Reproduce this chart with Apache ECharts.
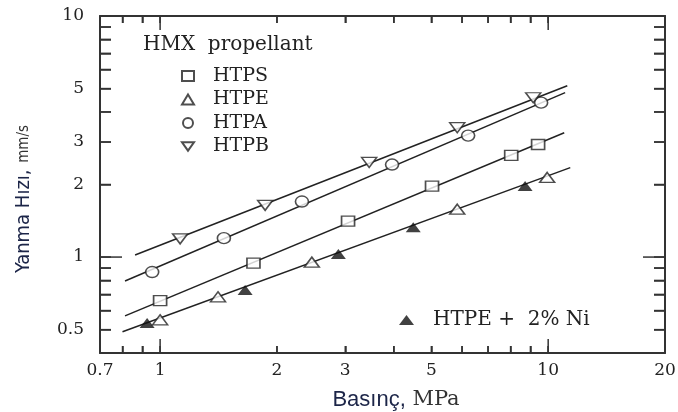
<!DOCTYPE html>
<html>
<head>
<meta charset="utf-8">
<script src="https://cdn.jsdelivr.net/npm/echarts@6/dist/echarts.min.js"></script>
<style>
  html, body { margin: 0; padding: 0; background: #fff; }
  #chart { width: 678px; height: 412px; }
</style>
</head>
<body>
<div id="chart"></div>
<script>
// measured points (pressure MPa, burning rate mm/s)
var htpsP = [1.0, 1.74, 3.05, 5.02, 8.03, 9.42];
var htpsR = [0.66, 0.944, 1.41, 1.97, 2.64, 2.93];
var htpeP = [1.0, 1.41, 2.46, 5.83, 9.94];
var htpeR = [0.549, 0.684, 0.953, 1.58, 2.14];
var htpaP = [0.954, 1.46, 2.32, 3.96, 6.22, 9.59];
var htpaR = [0.867, 1.198, 1.70, 2.42, 3.19, 4.37];
var htpbP = [1.126, 1.865, 3.457, 5.83, 9.15];
var htpbR = [1.19, 1.64, 2.47, 3.44, 4.58];
var niP = [0.926, 1.656, 2.88, 4.49, 8.72];
var niR = [0.533, 0.73, 1.03, 1.33, 1.97];

// fitted lines, end points [P, r]
var fitHTPS = [[0.812, 0.57], [11.0, 3.28]];
var fitHTPE = [[0.80, 0.49], [11.4, 2.35]];
var fitHTPA = [[0.812, 0.796], [11.06, 4.81]];
var fitHTPB = [[0.862, 1.02], [11.2, 5.14]];

// axes
var xRange = [0.7, 20];
var yRange = [0.4, 10];
var xLabels = [0.7, 1, 2, 3, 5, 10, 20];
var xMinor = [0.8, 0.9, 2, 3, 4, 5, 6, 7, 8, 9];
var xMajor = [1, 10];
var yLabels = [0.5, 1, 2, 3, 5, 10];
var yMinor = [0.5, 0.6, 0.7, 0.8, 0.9, 2, 3, 4, 5, 6, 7, 8, 9];
var yMajor = [1, 10];

var lg = Math.log10;
function pts(P, R) { return P.map(function (p, i) { return [lg(p), lg(R[i])]; }); }
function fit(a) { return a.map(function (d) { return [lg(d[0]), lg(d[1])]; }); }
function labelOf(list) {
  return function (v) {
    for (var i = 0; i < list.length; i++) {
      if (Math.abs(lg(list[i]) - v) < 1e-6) return String(list[i]);
    }
    return '';
  };
}

var serif = "'DejaVu Serif', 'Liberation Serif', serif";
var narrow = "'Liberation Sans Narrow', 'DejaVu Sans Condensed', sans-serif";
var ink = '#222';

// one axis per side; left/bottom carry the labels, top/right only ticks
function axis(kind, pos, labels) {
  var range = kind === 'x' ? xRange : yRange;
  var tv = (kind === 'x' ? xMinor.concat(xMajor) : yMinor.concat(yMajor)).map(lg);
  var label = labels ? {
    show: true,
    customValues: labels.map(lg),
    formatter: labelOf(labels),
    fontFamily: serif, fontSize: 17, color: ink,
    margin: kind === 'x' ? 9 : 16
  } : { show: true, formatter: function () { return ''; } };
  return {
    type: 'value',
    position: pos,
    zlevel: 1, z: 10,
    min: lg(range[0]),
    max: lg(range[1]),
    axisLine: { show: true, onZero: false, lineStyle: { color: '#333', width: 2 } },
    splitLine: { show: false },
    axisTick: {
      show: true, inside: true, length: kind === 'x' ? 7 : 11,
      customValues: tv,
      lineStyle: { color: '#333', width: 1.5 }
    },
    axisLabel: label
  };
}

// inside ticks on both sides of the frame, placed through the axis scales
function ticks(kind, values, len) {
  return {
    type: 'custom', silent: true, zlevel: 1, z: 10, clip: false,
    data: values.map(function (v) {
      return kind === 'x' ? [lg(v), lg(yRange[0])] : [lg(xRange[0]), lg(v)];
    }),
    renderItem: function (params, api) {
      var a, b;
      if (kind === 'x') {
        a = api.coord([api.value(0), lg(yRange[0])]);
        b = api.coord([api.value(0), lg(yRange[1])]);
        return { type: 'group', children: [
          { type: 'line', shape: { x1: a[0], y1: a[1], x2: a[0], y2: a[1] - len }, style: { stroke: '#333', lineWidth: 1.5 } },
          { type: 'line', shape: { x1: b[0], y1: b[1], x2: b[0], y2: b[1] + len }, style: { stroke: '#333', lineWidth: 1.5 } }
        ] };
      }
      a = api.coord([lg(xRange[0]), api.value(1)]);
      b = api.coord([lg(xRange[1]), api.value(1)]);
      return { type: 'group', children: [
        { type: 'line', shape: { x1: a[0], y1: a[1], x2: a[0] + len, y2: a[1] }, style: { stroke: '#333', lineWidth: 1.5 } },
        { type: 'line', shape: { x1: b[0], y1: b[1], x2: b[0] - len, y2: b[1] }, style: { stroke: '#333', lineWidth: 1.5 } }
      ] };
    }
  };
}

var openStyle = { color: '#fff', borderColor: ink, borderWidth: 1.5 };
var downTri = 'path://M0,0 L20,0 L10,14 Z';

function fitLine(name, d) {
  return {
    name: name, type: 'line', data: fit(d), symbol: 'none', silent: true,
    lineStyle: { color: ink, width: 1.5 }, z: 2
  };
}
function marks(name, P, R, symbol, size, style) {
  return {
    name: name, type: 'scatter', data: pts(P, R),
    symbol: symbol, symbolSize: size, itemStyle: style, z: 5
  };
}

var chart = echarts.init(document.getElementById('chart'));
chart.setOption({
  animation: false,
  grid: { left: 100, right: 13, top: 16, bottom: 59, outerBoundsMode: 'none' },
  xAxis: [axis('x', 'bottom', xLabels), axis('x', 'top', null)],
  yAxis: [axis('y', 'left', yLabels), axis('y', 'right', null)],
  legend: [{
    data: ['HTPS', 'HTPE', 'HTPA', 'HTPB'],
    orient: 'vertical', left: 176, top: 61,
    itemWidth: 12, itemHeight: 10, itemGap: 3.5,
    textStyle: { fontFamily: serif, fontSize: 19, color: ink, lineHeight: 20, padding: [0, 0, 0, 14] },
    selectedMode: false
  }, {
    data: ['HTPE +  2% Ni'],
    left: 394, top: 305,
    itemWidth: 15, itemHeight: 10,
    textStyle: { fontFamily: serif, fontSize: 20, color: ink, lineHeight: 20, padding: [0, 0, 0, 14] },
    selectedMode: false
  }],
  graphic: [{
    type: 'text', left: 143, top: 35,
    style: { text: 'HMX  propellant', font: '20px ' + serif, fill: ink }
  }, {
    type: 'text', x: 24, y: 199, rotation: Math.PI / 2,
    style: {
      text: '{a|Yanma Hızı,}  {b|mm/s}',
      align: 'center', verticalAlign: 'middle',
      rich: {
        a: { fontFamily: narrow, fontSize: 20, fill: '#1c2548' },
        b: { fontFamily: narrow, fontSize: 15, fill: '#333' }
      }
    }
  }, {
    type: 'text', x: 396, y: 400,
    style: {
      text: '{a|Basınç,}  {b|MPa}',
      align: 'center', verticalAlign: 'middle',
      rich: {
        a: { fontFamily: "'Liberation Sans', Arial, sans-serif", fontSize: 22, fill: '#1c2548' },
        b: { fontFamily: serif, fontSize: 21, fill: '#333' }
      }
    }
  }],
  series: [
    ticks('x', xMinor, 7),
    ticks('x', xMajor, 14),
    ticks('y', yMinor, 11),
    ticks('y', yMajor, 22),
    fitLine('fitHTPS', fitHTPS),
    fitLine('fitHTPE', fitHTPE),
    fitLine('fitHTPA', fitHTPA),
    fitLine('fitHTPB', fitHTPB),
    marks('HTPS', htpsP, htpsR, 'rect', [13, 10], openStyle),
    marks('HTPE', htpeP, htpeR, 'triangle', [15, 10], openStyle),
    marks('HTPA', htpaP, htpaR, 'circle', [13, 11], openStyle),
    marks('HTPB', htpbP, htpbR, downTri, [15, 10], openStyle),
    marks('HTPE +  2% Ni', niP, niR, 'triangle', [15, 10], { color: '#111' })
  ]
});
</script>
</body>
</html>
